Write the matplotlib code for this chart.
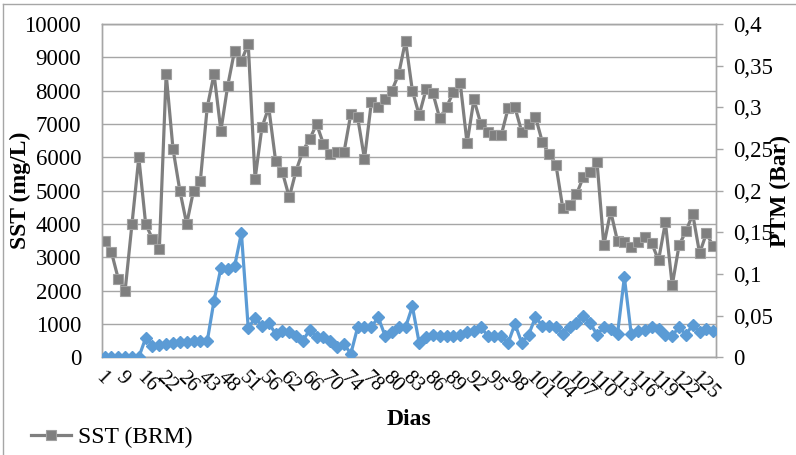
import matplotlib.pyplot as plt
from matplotlib.lines import Line2D

plt.rcParams["font.family"] = ["Liberation Serif", "DejaVu Serif"]

# Day labels shown on the category axis (one label every third sample)
day_labels = ["1", "9", "16", "22", "26", "43", "48", "51", "56", "62",
              "66", "70", "74", "78", "80", "83", "86", "89", "92", "95",
              "98", "101", "104", "107", "110", "113", "116", "119", "122", "125"]

# Suspended solids in the bioreactor (mg/L)
sst_brm = [3500, 3150, 2350, 2000, 4000, 6000, 4000, 3550, 3250, 8500,
           6250, 5000, 4000, 5000, 5300, 7500, 8500, 6800, 8150, 9200,
           8900, 9400, 5350, 6900, 7500, 5900, 5550, 4800, 5600, 6200,
           6550, 7000, 6400, 6100, 6150, 6150, 7300, 7200, 5950, 7650,
           7500, 7750, 8000, 8500, 9500, 8000, 7270, 8040, 7930, 7170,
           7510, 7960, 8230, 6420, 7740, 7010, 6760, 6670, 6670, 7470,
           7500, 6760, 7010, 7220, 6460, 6100, 5770, 4470, 4560, 4890,
           5410, 5560, 5860, 3360, 4380, 3480, 3450, 3300, 3450, 3600,
           3420, 2910, 4050, 2160, 3360, 3780, 4290, 3120, 3720, 3330]

# Transmembrane pressure (bar)
ptm = [0.0, 0.0, 0.0, 0.0, 0.0, 0.0, 0.023, 0.014, 0.015, 0.016,
       0.017, 0.018, 0.018, 0.019, 0.019, 0.019, 0.068, 0.107, 0.106, 0.109,
       0.149, 0.035, 0.047, 0.038, 0.041, 0.028, 0.032, 0.030, 0.026, 0.020,
       0.033, 0.024, 0.024, 0.020, 0.012, 0.016, 0.004, 0.036, 0.036, 0.036,
       0.048, 0.026, 0.030, 0.036, 0.036, 0.061, 0.017, 0.024, 0.027, 0.026,
       0.026, 0.026, 0.027, 0.030, 0.032, 0.036, 0.026, 0.026, 0.026, 0.017,
       0.040, 0.017, 0.027, 0.048, 0.038, 0.037, 0.036, 0.028, 0.036, 0.041,
       0.050, 0.041, 0.027, 0.036, 0.034, 0.028, 0.096, 0.028, 0.032, 0.033,
       0.036, 0.034, 0.027, 0.026, 0.036, 0.027, 0.039, 0.030, 0.034, 0.032]

GRAY = "#7F7F7F"
BLUE = "#5B9BD5"
GRID = "#A6A6A6"

x = list(range(len(sst_brm)))

fig = plt.figure(figsize=(7.96, 4.55), dpi=100)
ax = fig.add_axes([0.128, 0.215, 0.7715, 0.732])
ax2 = ax.twinx()

sst_line, = ax.plot(x, sst_brm, color=GRAY, lw=2.3, marker="s", ms=7.5,
                    mfc=GRAY, mec="#A0A0A0", mew=0.8, zorder=3,
                    label="SST (BRM)")
ax2.plot(x, ptm, color=BLUE, lw=2.3, marker="D", ms=6.5,
         mfc=BLUE, mec=BLUE, zorder=3)

ax.set_xlim(-0.4, len(x) - 0.6)
ax.set_ylim(0, 10000)
ax.set_yticks(range(0, 10001, 1000))
ax2.set_ylim(0, 0.4)
ax2.set_yticks([i * 0.05 for i in range(9)])
ax2.set_yticklabels(["0", "0,05", "0,1", "0,15", "0,2", "0,25", "0,3",
                     "0,35", "0,4"])

ax.grid(axis="y", color=GRID, lw=1.0)
ax.set_axisbelow(True)

ax.set_xticks(x[::3])
ax.set_xticklabels(day_labels, rotation=-45, ha="left", va="top",
                   rotation_mode="anchor")
ax.tick_params(axis="x", length=0, pad=8, labelsize=15)
ax.tick_params(axis="y", length=0, pad=15, labelsize=16.5)
ax2.tick_params(axis="y", length=5, width=1, color=GRID, pad=7,
                labelsize=16.5)

for a in (ax, ax2):
    for side in ("left", "right", "top", "bottom"):
        a.spines[side].set_color(GRID)
        a.spines[side].set_linewidth(1.0)

ax.set_ylabel("SST (mg/L)", fontsize=17, fontweight="bold", labelpad=-5)
ax.set_xlabel("Dias", fontsize=17, fontweight="bold", labelpad=4)
# the right-hand title sits partly over the tick labels
ax2.set_ylabel("PTM (Bar)", fontsize=17, fontweight="bold", labelpad=-2)

fig.legend(handles=[sst_line], loc="center left",
           bbox_to_anchor=(0.012, 0.038), frameon=False, fontsize=17,
           handlelength=1.7, handletextpad=0.3)

# outer chart frame
fig.add_artist(Line2D([0.004, 1.0], [0.991, 0.991], color=GRID, lw=1.0,
                      transform=fig.transFigure))
fig.add_artist(Line2D([0.004, 0.004], [0.0, 0.991], color=GRID, lw=1.0,
                      transform=fig.transFigure))

fig.savefig("out.png", dpi=100)
